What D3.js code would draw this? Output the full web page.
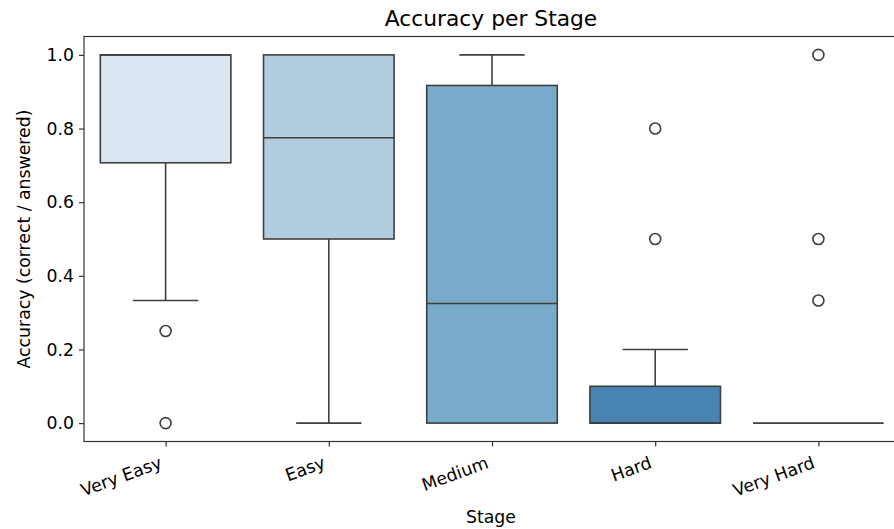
<!DOCTYPE html>
<html>
<head>
<meta charset="utf-8">
<script src="https://cdn.jsdelivr.net/npm/d3@7"></script>
<style>
  body { margin: 0; background: #fff; }
  text { font-family: "DejaVu Sans", sans-serif; fill: #000; }
</style>
</head>
<body>
<div id="chart"></div>
<script>
const stages = ['Very Easy', 'Easy', 'Medium', 'Hard', 'Very Hard']
const q1 = [0.707, 0.5, 0, 0, 0]
const median = [1.0, 0.775, 0.325, 0, 0]
const q3 = [1.0, 1.0, 0.917, 0.1, 0]
const whiskerLow = [0.333, 0, 0, 0, 0]
const whiskerHigh = [1.0, 1.0, 1.0, 0.2, 0]
const outliers = [[0.25, 0], [], [], [0.5, 0.8], [0.333, 0.5, 1.0]]
const colors = ['#dae6f2', '#b3cde0', '#7aaac9', '#4884b2', '#2f6ca3']
const yTicks = [0, 0.2, 0.4, 0.6, 0.8, 1.0]

const W = 894, H = 529
const margin = { left: 84, right: -6, top: 36.5, bottom: 87.5 }
const STROKE = '#3f3f3f'
const FONT = '17.3px'

const svg = d3.select('#chart').append('svg')
    .attr('width', W).attr('height', H)

const x = d3.scaleLinear()
    .domain([-0.5, stages.length - 0.5])
    .range([margin.left, W - margin.right])
const y = d3.scaleLinear()
    .domain([-0.05, 1.05])
    .range([H - margin.bottom, margin.top])

const step = x(1) - x(0)
const boxW = step * 0.8
const capW = boxW * 0.5

const data = stages.map((s, i) => ({
    stage: s, i,
    q1: q1[i], med: median[i], q3: q3[i],
    lo: whiskerLow[i], hi: whiskerHigh[i],
    out: outliers[i], color: colors[i]
}))

const g = svg.selectAll('.box').data(data).enter()
    .append('g').attr('class', 'box')

// whiskers
g.append('line')
    .attr('x1', d => x(d.i)).attr('x2', d => x(d.i))
    .attr('y1', d => y(d.lo)).attr('y2', d => y(d.q1))
    .attr('stroke', STROKE).attr('stroke-width', 1.6)
g.append('line')
    .attr('x1', d => x(d.i)).attr('x2', d => x(d.i))
    .attr('y1', d => y(d.q3)).attr('y2', d => y(d.hi))
    .attr('stroke', STROKE).attr('stroke-width', 1.6)
// caps
g.filter(d => d.hi > d.q3).append('line')
    .attr('x1', d => x(d.i) - capW / 2).attr('x2', d => x(d.i) + capW / 2)
    .attr('y1', d => y(d.hi)).attr('y2', d => y(d.hi))
    .attr('stroke', STROKE).attr('stroke-width', 1.6)
g.filter(d => d.lo < d.q1).append('line')
    .attr('x1', d => x(d.i) - capW / 2).attr('x2', d => x(d.i) + capW / 2)
    .attr('y1', d => y(d.lo)).attr('y2', d => y(d.lo))
    .attr('stroke', STROKE).attr('stroke-width', 1.6)

// boxes
g.append('rect')
    .attr('x', d => x(d.i) - boxW / 2)
    .attr('width', boxW)
    .attr('y', d => y(d.q3))
    .attr('height', d => y(d.q1) - y(d.q3))
    .attr('fill', d => d.color)
    .attr('stroke', STROKE).attr('stroke-width', 1.6)

// medians
g.append('line')
    .attr('x1', d => x(d.i) - boxW / 2).attr('x2', d => x(d.i) + boxW / 2)
    .attr('y1', d => y(d.med)).attr('y2', d => y(d.med))
    .attr('stroke', STROKE).attr('stroke-width', 1.6)

// outliers
g.selectAll('circle').data(d => d.out.map(v => ({ i: d.i, v }))).enter()
    .append('circle')
    .attr('cx', d => x(d.i)).attr('cy', d => y(d.v))
    .attr('r', 5.5)
    .attr('fill', 'none')
    .attr('stroke', STROKE).attr('stroke-width', 1.6)

// axes
const yAxis = svg.append('g')
    .attr('transform', `translate(${margin.left},0)`)
    .call(d3.axisLeft(y).tickValues(yTicks).tickFormat(d3.format('.1f')).tickSize(5).tickPadding(5))
const xAxis = svg.append('g')
    .attr('transform', `translate(0,${H - margin.bottom})`)
    .call(d3.axisBottom(x).tickValues(d3.range(stages.length)).tickFormat(i => stages[i]).tickSize(5).tickPadding(6))

yAxis.select('.domain').remove()
xAxis.select('.domain').remove()
svg.selectAll('.tick line').attr('stroke', '#333').attr('stroke-width', 1.2)
svg.selectAll('.tick text').style('font-size', FONT).attr('fill', '#000')

xAxis.selectAll('.tick text')
    .attr('text-anchor', 'end')
    .attr('dy', null)
    .attr('y', 0)
    .attr('transform', 'translate(-3,26) rotate(-20)')

// frame
svg.append('rect')
    .attr('x', margin.left).attr('y', margin.top)
    .attr('width', x.range()[1] - margin.left)
    .attr('height', H - margin.bottom - margin.top)
    .attr('fill', 'none').attr('stroke', '#333').attr('stroke-width', 1.2)

// labels
svg.append('text')
    .attr('x', 491).attr('y', 26)
    .attr('text-anchor', 'middle').style('font-size', '21.8px')
    .text('Accuracy per Stage')
svg.append('text')
    .attr('x', 491).attr('y', 523)
    .attr('text-anchor', 'middle').style('font-size', FONT)
    .text('Stage')
svg.append('text')
    .attr('transform', `translate(30,${(margin.top + H - margin.bottom) / 2}) rotate(-90)`)
    .attr('text-anchor', 'middle').style('font-size', FONT)
    .text('Accuracy (correct / answered)')
</script>
</body>
</html>
